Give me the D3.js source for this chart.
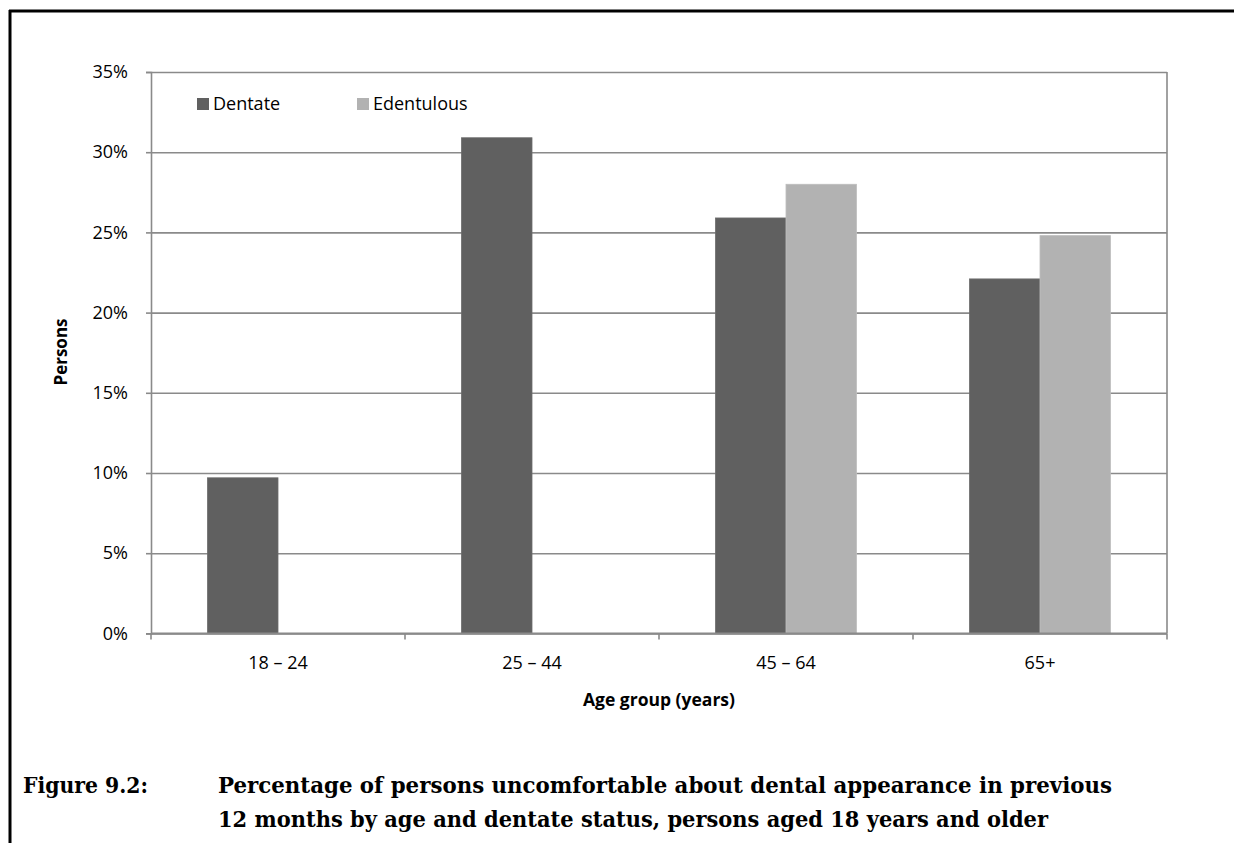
<!DOCTYPE html>
<meta charset="utf-8">
<script src="https://d3js.org/d3.v7.min.js"></script>
<style>
  body { margin: 0; background: #fff; }
  text { font-family: "Open Sans", sans-serif; }
  text.caption { font-family: "DejaVu Serif", serif; font-weight: bold; }
</style>
<div id="chart"></div>
<script>

// data (percent)
var categories = ["18 \u2013 24", "25 \u2013 44", "45 \u2013 64", "65+"];
var seriesNames = ["Dentate", "Edentulous"];
var dentate = [9.7, 30.9, 25.9, 22.1];
var edentulous = [null, null, 28.0, 24.8];
var yTicks = [0, 5, 10, 15, 20, 25, 30, 35];
var colors = ["#606060", "#b2b2b2"];

var W = 1234, H = 843;
var plot = {left: 151, top: 72, right: 1167, bottom: 633.4};

var svg = d3.select("#chart")
  .append("svg")
    .attr("width", W)
    .attr("height", H);

// outer frame (top + left only)
svg.append("line").attr("x1", 9).attr("x2", W).attr("y1", 11).attr("y2", 11)
  .attr("stroke", "#000").attr("stroke-width", 3);
svg.append("line").attr("x1", 10).attr("x2", 10).attr("y1", 10).attr("y2", H)
  .attr("stroke", "#000").attr("stroke-width", 3);

var x = d3.scaleBand()
  .domain(categories)
  .range([plot.left, plot.right])
  .paddingInner(0.445)
  .paddingOuter(0.2225);

var xs = d3.scaleBand()
  .domain(seriesNames)
  .range([0, x.bandwidth()]);

var y = d3.scaleLinear()
  .domain([0, 35])
  .range([plot.bottom, plot.top]);

var grey = "#8a8a8a";

// gridlines
svg.append("g")
  .attr("transform", "translate(" + plot.left + ",0)")
  .call(d3.axisLeft(y).tickValues(yTicks).tickSize(-(plot.right - plot.left)).tickFormat(""))
  .call(function(g) { g.select(".domain").remove(); })
  .selectAll("line")
    .attr("stroke", grey)
    .attr("stroke-width", 1.6);

// right border of plot
svg.append("line")
  .attr("x1", plot.right).attr("x2", plot.right)
  .attr("y1", y(35)).attr("y2", y(0))
  .attr("stroke", grey).attr("stroke-width", 1.6);

// bars
var rows = categories.map(function(c, i) {
  return {cat: c, vals: [dentate[i], edentulous[i]]};
});

svg.append("g")
  .selectAll("g")
  .data(rows)
  .enter()
  .append("g")
    .attr("transform", function(d) { return "translate(" + x(d.cat) + ",0)"; })
  .selectAll("rect")
  .data(function(d) {
    return d.vals.map(function(v, j) { return {name: seriesNames[j], v: v, j: j}; })
      .filter(function(e) { return e.v != null; });
  })
  .enter()
  .append("rect")
    .attr("x", function(d) { return xs(d.name); })
    .attr("width", xs.bandwidth())
    .attr("y", function(d) { return y(d.v); })
    .attr("height", function(d) { return y(0) - y(d.v); })
    .attr("fill", function(d) { return colors[d.j]; })
    .attr("stroke", function(d) { return d.j == 0 ? "#6c6c6c" : "#bdbdbd"; })
    .attr("stroke-width", 0.8);

// y axis
var yAxis = svg.append("g")
  .attr("transform", "translate(" + plot.left + ",0)")
  .call(d3.axisLeft(y).tickValues(yTicks).tickSize(5).tickPadding(18)
    .tickFormat(function(d) { return d + "%"; }));
yAxis.select(".domain").attr("stroke", grey).attr("stroke-width", 1.6);
yAxis.selectAll("line").attr("stroke", grey).attr("stroke-width", 1.6);
yAxis.selectAll("text")
  .attr("font-size", 18)
  .attr("font-family", "Open Sans")
  .attr("fill", "#000");

// x axis: baseline, boundary ticks, labels
var step = x.step();
var bounds = categories.map(function(c) { return x(c) - step * x.paddingInner() / 2; });
bounds.push(plot.right);

var xAxis = svg.append("g");
xAxis.append("line")
  .attr("x1", plot.left).attr("x2", plot.right)
  .attr("y1", y(0)).attr("y2", y(0))
  .attr("stroke", grey).attr("stroke-width", 2);
xAxis.selectAll(".tick")
  .data(bounds)
  .enter()
  .append("line")
    .attr("x1", function(d) { return d; }).attr("x2", function(d) { return d; })
    .attr("y1", y(0)).attr("y2", y(0) + 6)
    .attr("stroke", grey).attr("stroke-width", 1.6);
xAxis.selectAll(".lab")
  .data(categories)
  .enter()
  .append("text")
    .attr("x", function(d) { return x(d) + x.bandwidth() / 2; })
    .attr("y", 669)
    .attr("text-anchor", "middle")
    .attr("font-size", 18)
    .text(function(d) { return d; });

// axis titles
svg.append("text")
  .attr("x", (plot.left + plot.right) / 2)
  .attr("y", 706)
  .attr("text-anchor", "middle")
  .attr("font-size", 17.5)
  .attr("font-weight", "bold")
  .text("Age group (years)");

svg.append("text")
  .attr("transform", "translate(67,352) rotate(-90)")
  .attr("text-anchor", "middle")
  .attr("font-size", 17)
  .attr("font-weight", "bold")
  .text("Persons");

// legend
var legendX = [197, 357];
var legend = svg.append("g")
  .selectAll("g")
  .data(seriesNames)
  .enter()
  .append("g")
    .attr("transform", function(d, i) { return "translate(" + legendX[i] + ",98)"; });
legend.append("rect")
  .attr("width", 12).attr("height", 12)
  .attr("fill", function(d, i) { return colors[i]; });
legend.append("text")
  .attr("x", 16).attr("y", 11.5)
  .attr("font-size", 18)
  .text(function(d) { return d; });

// caption
var cap = svg.append("g");
cap.append("text").attr("class", "caption").attr("x", 23).attr("y", 793).attr("font-size", 23)
  .attr("textLength", 125).attr("lengthAdjust", "spacingAndGlyphs")
  .text("Figure 9.2:");
cap.append("text").attr("class", "caption").attr("x", 218).attr("y", 793).attr("font-size", 23)
  .attr("textLength", 894).attr("lengthAdjust", "spacingAndGlyphs")
  .text("Percentage of persons uncomfortable about dental appearance in previous");
cap.append("text").attr("class", "caption").attr("x", 218).attr("y", 827).attr("font-size", 23)
  .attr("textLength", 830).attr("lengthAdjust", "spacingAndGlyphs")
  .text("12 months by age and dentate status, persons aged 18 years and older");

</script>
